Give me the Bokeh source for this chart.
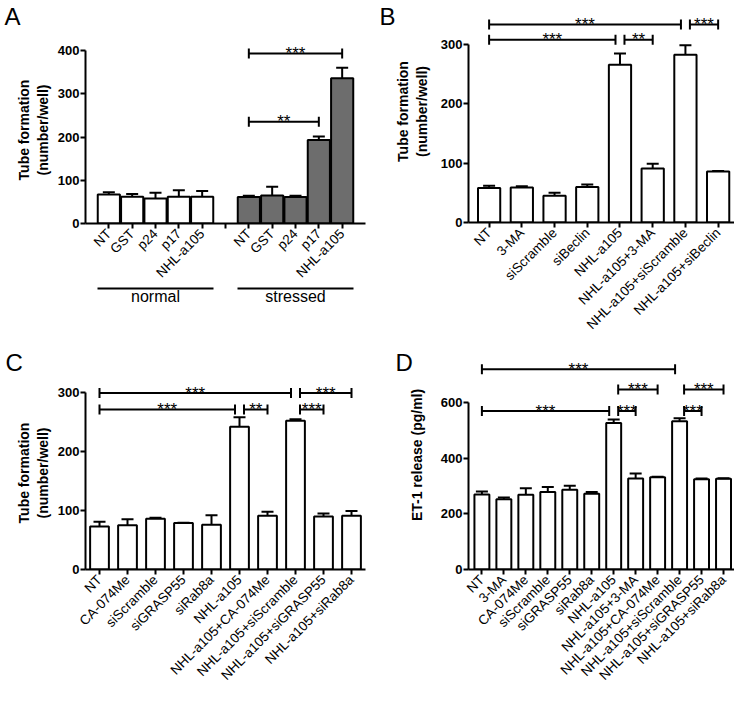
import math
from bokeh.plotting import figure
from bokeh.layouts import row, column
from bokeh.models import Range1d, FixedTicker, Label, LinearAxis
from bokeh.core.properties import value
from bokeh.embed import file_html
from bokeh.resources import INLINE

FONT = "Liberation Sans"

# ---------------- data ----------------
a_categories = ["NT", "GST", "p24", "p17", "NHL-a105"]
a_groups = ["normal", "stressed"]
a_normal_mean = [67, 62, 58, 62, 62]
a_normal_sem = [5, 6, 13, 15, 13]
a_stressed_mean = [61, 65, 61, 193, 336]
a_stressed_sem = [3, 20, 3, 8, 24]
a_yticks = [0, 100, 200, 300, 400]
a_sig = [(0, 4, 393, "***"), (0, 3, 235, "**")]  # within stressed group

b_categories = ["NT", "3-MA", "siScramble", "siBeclin", "NHL-a105",
                "NHL-a105+3-MA", "NHL-a105+siScramble", "NHL-a105+siBeclin"]
b_mean = [58, 59, 45, 60, 266, 91, 283, 86]
b_sem = [4, 2, 5, 4, 19, 8, 16, 1]
b_yticks = [0, 100, 200, 300]
b_sig = [(0, 4, 308, "***"), (4, 5, 308, "**"), (0, 6, 334, "***"), (6, 7, 334, "***")]

c_categories = ["NT", "CA-074Me", "siScramble", "siGRASP55", "siRab8a", "NHL-a105",
                "NHL-a105+CA-074Me", "NHL-a105+siScramble", "NHL-a105+siGRASP55",
                "NHL-a105+siRab8a"]
c_mean = [73, 75, 86, 78.6, 76, 242, 91, 252, 90, 91]
c_sem = [8, 10, 1.5, 0.8, 16, 16, 7, 2.6, 5, 8]
c_yticks = [0, 100, 200, 300]
c_sig = [(0, 5, 271, "***"), (5, 6, 271, "**"), (0, 7, 299, "***"),
         (7, 8, 271, "***"), (7, 9, 299, "***")]

d_categories = ["NT", "3-MA", "CA-074Me", "siScramble", "siGRASP55", "siRab8a", "NHL-a105",
                "NHL-a105+3-MA", "NHL-a105+CA-074Me", "NHL-a105+siScramble",
                "NHL-a105+siGRASP55", "NHL-a105+siRab8a"]
d_mean = [269, 252, 268, 278, 286, 272, 526, 327, 331, 532, 324, 326]
d_sem = [11, 7, 24, 18, 15, 6, 13, 18, 2, 11.5, 3, 2]
d_yticks = [0, 200, 400, 600]
d_sig = [(0, 6, 569, "***"), (6, 7, 569, "***"), (6, 8, 646, "***"),
         (0, 9, 719, "***"), (9, 10, 569, "***"), (9, 11, 646, "***")]

TUBE_LABEL = "Tube formation\n(number/well)"
ET1_LABEL = "ET-1 release (pg/ml)"


def make_fig(W, H, left, right, top, bottom, xr, y_end, yticks, ylabel, label_standoff):
    p = figure(width=W, height=H, output_backend="svg", toolbar_location=None,
               x_range=Range1d(*xr), y_range=Range1d(0, y_end),
               min_border_left=left, min_border_right=right,
               min_border_top=top, min_border_bottom=bottom)
    p.outline_line_color = None
    p.grid.visible = False
    p.background_fill_color = "white"
    p.border_fill_color = "white"
    for ax in (p.xaxis, p.yaxis):
        ax.axis_line_width = 2
        ax.axis_line_color = "black"
        ax.major_tick_line_width = 2
        ax.major_tick_line_color = "black"
        ax.major_tick_out = 5
        ax.major_tick_in = 0
        ax.minor_tick_line_color = None
        ax.major_label_text_font = FONT
        ax.major_label_text_color = "black"
    p.yaxis.ticker = FixedTicker(ticks=yticks)
    p.yaxis.bounds = (yticks[0], yticks[-1])
    p.yaxis.major_label_text_font_style = "bold"
    p.yaxis.major_label_text_font_size = "13px"
    p.yaxis.major_label_standoff = 1
    p.yaxis.axis_label = ylabel
    p.yaxis.axis_label_text_font = FONT
    p.yaxis.axis_label_text_font_style = "bold"
    p.yaxis.axis_label_text_font_size = "14px"
    p.yaxis.axis_label_text_line_height = 1.2
    p.yaxis.axis_label_text_color = "black"
    p.yaxis.axis_label_standoff = label_standoff
    p.xaxis.major_label_orientation = math.pi / 4
    p.xaxis.major_label_text_font_size = "13.5px"
    p.xaxis.major_label_standoff = 3
    return p


def frame_scales(W, H, left, right, top, bottom, xr, y_end):
    fw = W - left - right
    fh = H - top - bottom
    return fw / (xr[1] - xr[0]), fh / y_end


def add_bars(p, xs, means, sems, width, fill):
    p.vbar(x=xs, top=means, bottom=0, width=width, fill_color=fill,
           line_color="black", line_width=2)
    tops = [m + s for m, s in zip(means, sems)]
    p.segment(x0=xs, y0=means, x1=xs, y1=tops, line_color="black", line_width=2)
    p.scatter(x=xs, y=tops, marker="dash", size=12, line_color="black", line_width=2)


def add_brackets(p, xs, sig, delta):
    starts = {s[0] for s in sig}
    ends = {s[1] for s in sig}
    x0s, x1s, ys, xm, texts = [], [], [], [], []
    for i, j, y, t in sig:
        x0 = xs[i] + (delta if i in ends else 0)
        x1 = xs[j] - (delta if j in starts else 0)
        x0s.append(x0); x1s.append(x1); ys.append(y)
        xm.append((x0 + x1) / 2); texts.append(t)
    p.segment(x0=x0s, y0=ys, x1=x1s, y1=ys, line_color="black", line_width=2)
    p.scatter(x=x0s + x1s, y=ys + ys, marker="dash", angle=math.pi / 2, size=10,
              line_color="black", line_width=2)
    p.text(x=xm, y=ys, text=texts, text_align="center", text_baseline="alphabetic",
           text_font=value(FONT), text_font_size="17px", text_color="black")


def add_letter(p, xr, y_end, letter, dx, dy_up, side):
    p.add_layout(Label(x=xr[0], y=y_end, x_units="data", y_units="data",
                       x_offset=dx, y_offset=dy_up, text=letter, text_font=FONT,
                       text_font_size="24px", text_baseline="top", text_align="left",
                       text_color="black"), side)


# ---------------- panel A ----------------
gA = dict(W=368, H=340, left=83, right=3, top=36, bottom=117, xr=(0, 12), y_end=432.4)
pA = make_fig(**gA, yticks=a_yticks, ylabel=TUBE_LABEL, label_standoff=4)
sxA, syA = frame_scales(**gA)
xs_norm = [1 + i for i in range(len(a_categories))]
xs_str = [len(a_categories) + 2 + i for i in range(len(a_categories))]
gap_x = len(a_categories) + 1
pA.xaxis.ticker = FixedTicker(ticks=xs_norm + [gap_x] + xs_str)
ovA = {x: c for x, c in zip(xs_norm, a_categories)}
ovA.update({x: c for x, c in zip(xs_str, a_categories)})
ovA[gap_x] = ""
pA.xaxis.major_label_overrides = ovA
add_bars(pA, xs_norm, a_normal_mean, a_normal_sem, 0.95, "white")
add_bars(pA, xs_str, a_stressed_mean, a_stressed_sem, 0.95, "#6d6d6d")
add_brackets(pA, xs_str, a_sig, 4.5 / sxA)
# group underlines: bare axes (line only) below the category axis
for xs in (xs_norm, xs_str):
    gax = LinearAxis(ticker=FixedTicker(ticks=[]), bounds=(xs[0] - 0.48, xs[-1] + 0.5),
                     axis_line_width=2, axis_line_color="black",
                     major_tick_line_color=None, minor_tick_line_color=None,
                     major_label_text_font_size="0px")
    pA.add_layout(gax, "below")
for xs, g in zip((xs_norm, xs_str), a_groups):
    pA.add_layout(Label(x=(xs[0] + xs[-1]) / 2, y=-64 / syA, text=g,
                        text_font=FONT, text_font_size="16px", text_align="center",
                        text_baseline="top", text_color="black"), "below")
add_letter(pA, gA["xr"], gA["y_end"], "A", -81, 34, "above")

# ---------------- panel B ----------------
gB = dict(W=366, H=340, left=99, right=0, top=0, bottom=117, xr=(0.37, 8.5), y_end=374.4)
pB = make_fig(**gB, yticks=b_yticks, ylabel=TUBE_LABEL, label_standoff=8)
sxB, syB = frame_scales(**gB)
xsB = [1 + i for i in range(len(b_categories))]
pB.xaxis.ticker = FixedTicker(ticks=xsB)
pB.xaxis.major_label_overrides = {x: c for x, c in zip(xsB, b_categories)}
add_bars(pB, xsB, b_mean, b_sem, 0.68, "white")
add_brackets(pB, xsB, b_sig, 4.5 / sxB)
add_letter(pB, gB["xr"], gB["y_end"], "B", -89, -2, "left")

# ---------------- panel C ----------------
gC = dict(W=368, H=351, left=85, right=3, top=36, bottom=118, xr=(0.5, 10.5), y_end=327.1)
pC = make_fig(**gC, yticks=c_yticks, ylabel=TUBE_LABEL, label_standoff=4)
sxC, syC = frame_scales(**gC)
xsC = [1 + i for i in range(len(c_categories))]
pC.xaxis.ticker = FixedTicker(ticks=xsC)
pC.xaxis.major_label_overrides = {x: c for x, c in zip(xsC, c_categories)}
add_bars(pC, xsC, c_mean, c_sem, 0.67, "white")
add_brackets(pC, xsC, c_sig, 4.5 / sxC)
add_letter(pC, gC["xr"], gC["y_end"], "C", -80, 28, "above")

# ---------------- panel D ----------------
gD = dict(W=366, H=351, left=100, right=0, top=0, bottom=118, xr=(0.39, 12.5), y_end=822.4)
pD = make_fig(**gD, yticks=d_yticks, ylabel=ET1_LABEL, label_standoff=13)
sxD, syD = frame_scales(**gD)
xsD = [1 + i for i in range(len(d_categories))]
pD.xaxis.ticker = FixedTicker(ticks=xsD)
pD.xaxis.major_label_overrides = {x: c for x, c in zip(xsD, d_categories)}
add_bars(pD, xsD, d_mean, d_sem, 0.68, "white")
add_brackets(pD, xsD, d_sig, 4.5 / sxD)
add_letter(pD, gD["xr"], gD["y_end"], "D", -73, -8, "left")

layout = row(column(pA, pC), column(pB, pD))
open("out.html", "w").write(file_html(layout, INLINE))
